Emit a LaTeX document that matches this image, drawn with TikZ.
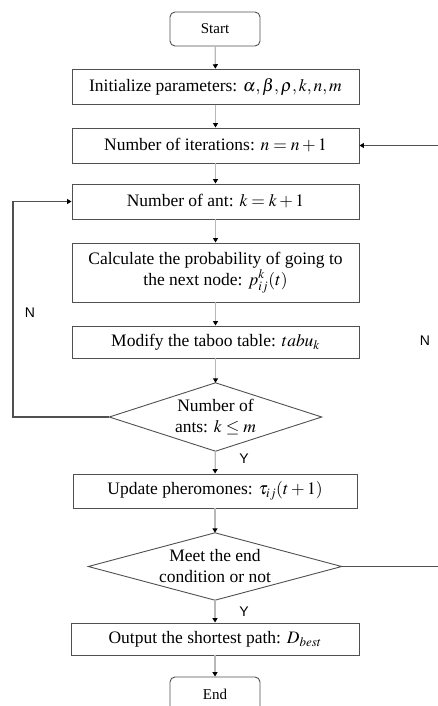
\documentclass[tikz,border=0pt]{standalone}
\usepackage{mathptmx}
\usepackage[no-math]{fontspec}
\setmainfont{Liberation Serif}
\newfontfamily\lblfont{Liberation Sans}
\usetikzlibrary{arrows.meta}
\definecolor{boxline}{HTML}{505050}
\definecolor{flowline}{HTML}{B8B8B8}
\definecolor{loopline}{HTML}{505050}
\tikzset{
  procbox/.style={draw=boxline, line width=0.9pt, rectangle, minimum width=287pt, inner sep=2pt, align=center, font=\fontsize{17.5}{21}\selectfont},
  termbox/.style={draw=boxline, line width=0.9pt, rectangle, rounded corners=5pt, minimum width=90pt, minimum height=34pt, font=\fontsize{15}{18}\selectfont},
  decbox/.style={rectangle, inner sep=0pt, align=center, font=\fontsize{17.5}{21}\selectfont},
  decline/.style={draw=boxline, line width=0.9pt},
  flowarrow/.style={draw=flowline, line width=1.2pt, -{Triangle[length=4.5pt,width=5pt,color=black]}},
  looparrow/.style={draw=loopline, line width=1.1pt, -{Triangle[length=4.5pt,width=5pt,color=black]}},
  yn/.style={font=\lblfont\fontsize{14}{16}\selectfont, inner sep=0pt}
}
\begin{document}
\begin{tikzpicture}[x=1pt,y=1pt]
\useasboundingbox (0,0) rectangle (437,-706);
\node[termbox] (start) at (215,-29) {Start};
\node[procbox, minimum height=35pt] (init) at (215.5,-86.7) {Initialize parameters: $\alpha,\beta,\rho,k,n,m$};
\node[procbox, minimum height=35pt] (iter) at (215.5,-145.5) {Number of iterations: $n=n+1$};
\node[procbox, minimum height=35pt] (ant) at (215.5,-201.5) {Number of ant: $k=k+1$};
\node[procbox, minimum height=59pt] (calc) at (215.5,-272.5) {Calculate the probability of going to\\the next node: $p_{ij}^{k}(t)$};
\node[procbox, minimum height=32pt] (modify) at (215.5,-342) {Modify the taboo table: $tabu_k$};
\node[decbox, minimum width=212pt, minimum height=68pt] (dec1) at (215.5,-417) {Number of\\ants: $k\le m$};
\draw[decline] (dec1.north) -- (dec1.east) -- (dec1.south) -- (dec1.west) -- cycle;
\node[procbox, minimum width=284pt, minimum height=34pt] (update) at (215,-491) {Update pheromones: $\tau_{ij}(t+1)$};
\node[decbox, minimum width=253pt, minimum height=67pt] (dec2) at (215,-566.5) {Meet the end\\condition or not};
\draw[decline] (dec2.north) -- (dec2.east) -- (dec2.south) -- (dec2.west) -- cycle;
\node[procbox, minimum width=288pt, minimum height=32pt] (output) at (215,-639) {Output the shortest path: $D_{best}$};
\node[termbox] (end) at (215,-694) {End};

\draw[flowarrow] (start) -- (init);
\draw[flowarrow] (init) -- (iter);
\draw[flowarrow] (iter) -- (ant);
\draw[flowarrow] (ant) -- (calc);
\draw[flowarrow] (calc) -- (modify);
\draw[flowarrow] (modify) -- (dec1);
\draw[flowarrow] (dec1) -- (update);
\draw[flowarrow] (update) -- (dec2);
\draw[flowarrow] (dec2) -- (output);
\draw[flowarrow] (output) -- (end);

\coordinate (lc1) at (13,-417);
\coordinate (lc2) at (13,-201.5);
\draw[looparrow] (dec1.west) -- (lc1) -- (lc2) -- (ant.west);
\coordinate (rc1) at (439,-566.5);
\coordinate (rc2) at (439,-145.5);
\draw[looparrow] (dec2.east) -- (rc1) -- (rc2) -- (iter.east);

\node[yn] (nleft) at (30,-313) {N};
\node[yn] (nright) at (425,-341) {N};
\node[yn] (y1) at (244,-459) {Y};
\node[yn] (y2) at (244,-612) {Y};
\end{tikzpicture}
\end{document}
